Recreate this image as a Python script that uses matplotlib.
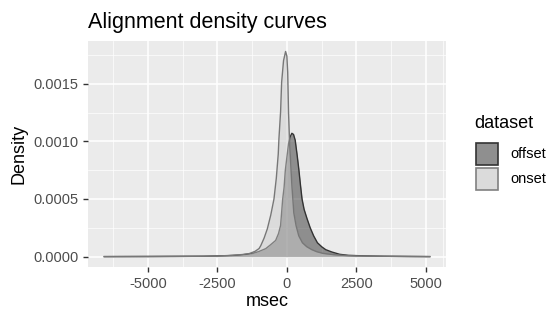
import matplotlib
matplotlib.use("Agg")
import matplotlib.pyplot as plt
from matplotlib.patches import Rectangle

plt.rcParams['font.family'] = ['Liberation Sans', 'DejaVu Sans']

# density curves (msec, density)
onset_x = [-6571, -5000, -3143, -2500, -1964, -1600, -1357, -1150, -1071, -1000,
           -939, -820, -704, -580, -464, -380, -310, -286, -225, -189, -120,
           -46, 0, 30, 60, 100, 135, 180, 250, 330, 429, 560, 714, 900, 1071,
           1300, 1679, 2200, 2929, 4000, 5143]
onset_y = [0, 0.000001, 0.000003, 0.000005, 0.000011, 0.000018, 0.000026, 0.000045,
           0.000058, 0.00007, 0.000095, 0.00016, 0.00024, 0.00036, 0.0005, 0.00068,
           0.00089, 0.00102, 0.00126, 0.00151, 0.0017, 0.00178, 0.00174, 0.0016,
           0.00125, 0.00098, 0.00082, 0.00062, 0.00038, 0.00027, 0.00018, 0.00012,
           0.000086, 0.00006, 0.000043, 0.000028, 0.000017, 0.000008, 0.000004,
           0.000002, 0]

offset_x = [-6571, -5000, -3000, -2200, -1700, -1239, -1000, -761, -600, -404, -300,
            -226, -150, -100, -55, 0, 60, 120, 180, 240, 300, 370, 429, 490, 546,
            620, 725, 840, 964, 1100, 1261, 1400, 1618, 1900, 2214, 2810, 3500,
            4500, 5143]
offset_y = [0, 0.000001, 0.000003, 0.000007, 0.000013, 0.000026, 0.000045, 0.000069,
            0.0001, 0.00014, 0.0002, 0.00027, 0.0005, 0.0006, 0.00075, 0.00086,
            0.00098, 0.00104, 0.00107, 0.00106, 0.00101, 0.00088, 0.00076, 0.00062,
            0.0005, 0.00041, 0.00033, 0.00025, 0.00018, 0.00012, 0.000084, 0.00006,
            0.00004, 0.00002, 0.000011, 0.000006, 0.000003, 0.000001, 0]

xticks = [-5000, -2500, 0, 2500, 5000]
yticks = [0.0, 0.0005, 0.0010, 0.0015]

W, H = 550, 309
fig = plt.figure(figsize=(5.5, 3.09), dpi=100)
ax = fig.add_axes([0.16, 0.136, 0.651, 0.731])
ax.set_facecolor('#EBEBEB')

# ggplot-like grid
for v in [-6250, -3750, -1250, 1250, 3750, 5625]:
    ax.axvline(v, color='white', lw=0.5, zorder=0)
for v in [0.00025, 0.00075, 0.00125, 0.00175]:
    ax.axhline(v, color='white', lw=0.5, zorder=0)
for v in xticks:
    ax.axvline(v, color='white', lw=1.1, zorder=0)
for v in yticks:
    ax.axhline(v, color='white', lw=1.1, zorder=0)

ax.fill_between(offset_x, offset_y, color='#333333', alpha=0.5, lw=0, zorder=2)
ax.plot(offset_x, offset_y, color='#333333', lw=1.0, zorder=3)
ax.fill_between(onset_x, onset_y, color='#CCCCCC', alpha=0.5, lw=0, zorder=4)
ax.plot(onset_x, onset_y, color='#777777', lw=1.0, zorder=5)

ax.set_xlim(-7157, 5729)
ax.set_ylim(-0.00009, 0.00187)
ax.set_xticks(xticks)
ax.set_xticklabels(['-5000', '-2500', '0', '2500', '5000'])
ax.set_yticks(yticks)
ax.set_yticklabels(['0.0000', '0.0005', '0.0010', '0.0015'])
ax.tick_params(colors='#333333', labelcolor='#4D4D4D', labelsize=10.5, length=3.5, width=1)
for s in ax.spines.values():
    s.set_visible(False)

ax.set_xlabel('msec', fontsize=13, labelpad=2)
ax.set_ylabel('Density', fontsize=13, labelpad=4)
fig.text(88 / W, 1 - 28 / H, 'Alignment density curves', fontsize=15.5, ha='left', va='baseline')

# legend drawn by hand to match ggplot key sizes
fig.text(474 / W, 1 - 123 / H, 'dataset', fontsize=13, ha='left', va='center')
keys = [('offset', '#8F8F8F', '#333333'), ('onset', '#DBDBDB', '#808080')]
for i, (lab, fc, ec) in enumerate(keys):
    top = 142 + i * 25
    fig.patches.append(Rectangle((476 / W, 1 - (top + 23) / H), 22 / W, 22 / H,
                                 transform=fig.transFigure, facecolor=fc,
                                 edgecolor=ec, lw=1.2))
    fig.text(510 / W, 1 - (top + 12) / H, lab, fontsize=10.5, ha='left', va='center')

fig.savefig('out.png', dpi=100)
